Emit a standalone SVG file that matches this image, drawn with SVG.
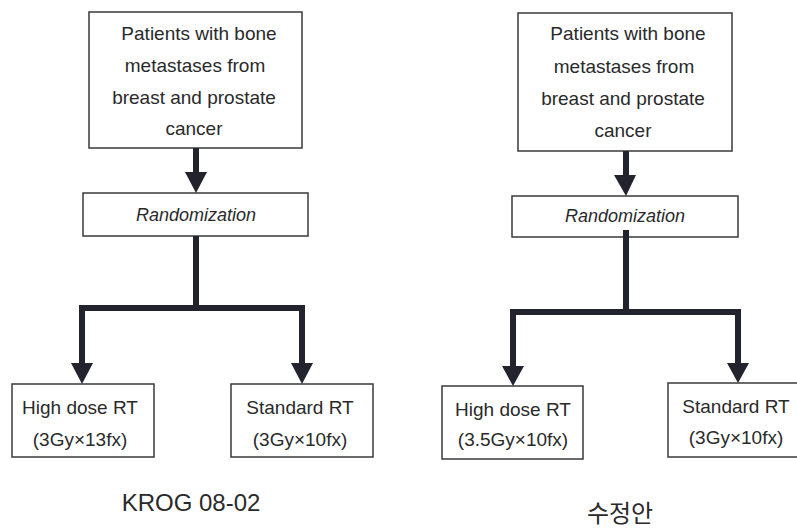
<svg xmlns="http://www.w3.org/2000/svg" width="797" height="531" viewBox="0 0 797 531">
<style>
  .box { fill: #ffffff; stroke: #3a3a3a; stroke-width: 1.5; }
  .t { font-family: "Liberation Sans", "Noto Sans CJK KR", sans-serif; font-size: 19px; fill: #2a2a2a; text-anchor: middle; }
  .it { font-style: italic; font-size: 18px; }
  .cap { font-family: "Liberation Sans", "Noto Sans CJK KR", sans-serif; font-size: 24px; fill: #2a2a2a; text-anchor: middle; }
  .line { fill: none; stroke: #23232d; stroke-width: 6; stroke-linejoin: miter; }
  .head { fill: #23232d; }
</style>
<rect width="797" height="531" fill="#ffffff"/>

<!-- Left diagram -->
<g id="left-patients">
  <rect class="box" x="89" y="12" width="213" height="136"/>
  <text class="t" x="199" y="40">Patients with bone</text>
  <text class="t" x="195" y="72">metastases from</text>
  <text class="t" x="194" y="104">breast and prostate</text>
  <text class="t" x="194" y="135">cancer</text>
</g>
<g id="left-random">
  <rect class="box" x="83" y="193" width="225" height="43"/>
  <text class="t it" x="196" y="221">Randomization</text>
</g>
<g id="left-high">
  <rect class="box" x="12" y="384" width="142" height="73"/>
  <text class="t" x="80" y="414">High dose RT</text>
  <text class="t" x="80" y="446">(3Gy×13fx)</text>
</g>
<g id="left-standard">
  <rect class="box" x="231" y="384" width="142" height="73"/>
  <text class="t" x="300" y="414">Standard RT</text>
  <text class="t" x="300" y="446">(3Gy×10fx)</text>
</g>
<text id="left-caption" class="cap" x="191" y="511">KROG 08-02</text>

<!-- Right diagram -->
<g id="right-patients">
  <rect class="box" x="518" y="13" width="214" height="138"/>
  <text class="t" x="628" y="40">Patients with bone</text>
  <text class="t" x="624" y="73">metastases from</text>
  <text class="t" x="623" y="105">breast and prostate</text>
  <text class="t" x="623" y="137">cancer</text>
</g>
<g id="right-random">
  <rect class="box" x="512" y="196" width="226" height="41"/>
  <text class="t it" x="625" y="222">Randomization</text>
</g>
<g id="right-high">
  <rect class="box" x="442" y="386" width="141" height="73"/>
  <text class="t" x="513" y="416">High dose RT</text>
  <text class="t" x="513" y="446">(3.5Gy×10fx)</text>
</g>
<g id="right-standard">
  <rect class="box" x="668" y="383" width="140" height="74"/>
  <text class="t" x="736" y="413">Standard RT</text>
  <text class="t" x="736" y="444">(3Gy×10fx)</text>
</g>
<text id="right-caption" class="cap" x="620" y="522">수정안</text>

<!-- Connectors -->
<g id="connectors">
  <line class="line" x1="196" y1="148" x2="196" y2="174"/>
  <polygon class="head" points="185,172 207,172 196,193"/>
  <path class="line" d="M196,236 V308 M82,308 H302 M82,305 V366 M302,305 V366"/>
  <polygon class="head" points="71,363 93,363 82,384"/>
  <polygon class="head" points="291,363 313,363 302,384"/>

  <line class="line" x1="626" y1="151" x2="626" y2="177"/>
  <polygon class="head" points="614,175 636,175 626,196"/>
  <path class="line" d="M626,230 V312 M513,312 H741 M513,309 V369 M738,309 V366"/>
  <polygon class="head" points="502,366 524,366 513,386"/>
  <polygon class="head" points="727,363 749,363 738,383"/>
</g>
</svg>
